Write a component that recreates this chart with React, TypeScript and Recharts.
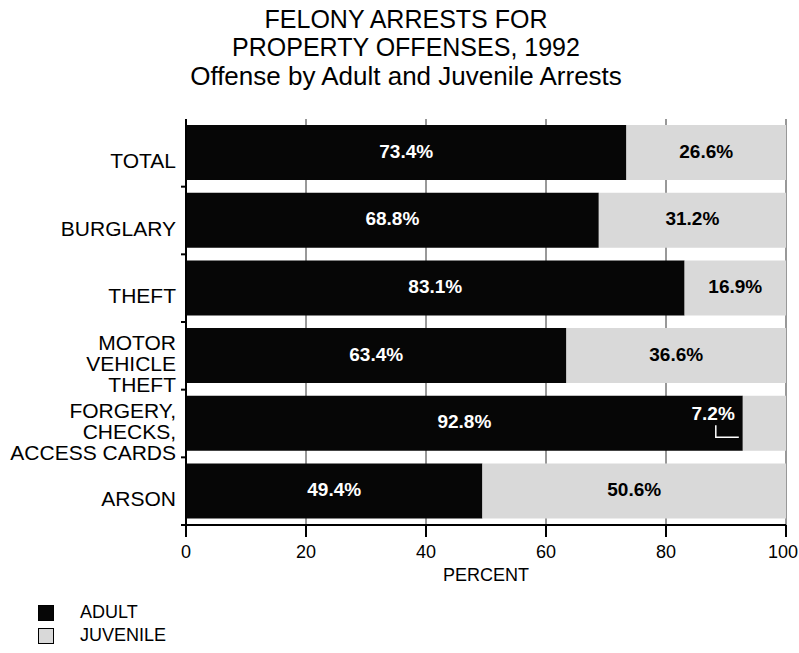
import React from 'react';
import { BarChart, Bar, XAxis, YAxis, CartesianGrid, Legend, LabelList } from 'recharts';

const categories = ['TOTAL', 'BURGLARY', 'THEFT', 'MOTOR\nVEHICLE\nTHEFT', 'FORGERY,\nCHECKS,\nACCESS CARDS', 'ARSON'];
const adultPct = [73.4, 68.8, 83.1, 63.4, 92.8, 49.4];
const juvenilePct = [26.6, 31.2, 16.9, 36.6, 7.2, 50.6];
const percentTicks = [0, 20, 40, 60, 80, 100];
const titleLines = ['FELONY ARRESTS FOR', 'PROPERTY OFFENSES, 1992'];
const subtitle = 'Offense by Adult and Juvenile Arrests';

const data = categories.map((name, i) => ({ name, adult: adultPct[i], juvenile: juvenilePct[i] }));

const FONT = '"Liberation Sans", Arial, Helvetica, sans-serif';
const ADULT_FILL = '#060606';
const JUV_FILL = '#d9d9d9';

const W = 799;
const H = 653;
const PLOT_TOP = 119;
const PLOT_BOTTOM = 525;
const X_AXIS_H = 58;
const HALF_BAND = (PLOT_BOTTOM - PLOT_TOP) / categories.length / 2;

// category name on the left, plus the little tick at the bottom edge of each band
const CategoryTick = ({ x, y, payload }: any) => {
  const lines = String(payload.value).split('\n');
  const lh = 21;
  const y0 = y - ((lines.length - 1) * lh) / 2 + 9;
  return (
    <g>
      <text x={x - 2} y={y0} textAnchor="end" fontSize={21} fontFamily={FONT} fill="#000" dominantBaseline="middle">
        {lines.map((l, i) => (
          <tspan key={i} x={x - 2} dy={i === 0 ? 0 : lh}>{l}</tspan>
        ))}
      </text>
      <line x1={x + 3} x2={x + 8} y1={y + HALF_BAND} y2={y + HALF_BAND} stroke="#000" strokeWidth={2} />
    </g>
  );
};

// last label ("100") sits flush with the right edge of the page
const PercentTick = ({ x, y, payload }: any) => {
  const last = payload.value === percentTicks[percentTicks.length - 1];
  return (
    <text x={last ? x + 12 : x} y={y} dy="0.71em" textAnchor={last ? 'end' : 'middle'}
      fontSize={18} fontFamily={FONT} fill="#000">{payload.value}</text>
  );
};

const AdultLabel = ({ x, y, width, height, value }: any) => (
  <text x={x + width / 2} y={y + height / 2} textAnchor="middle" dominantBaseline="middle"
    fontSize={19} fontWeight="bold" fontFamily={FONT} fill="#fff">
    {`${Number(value).toFixed(1)}%`}
  </text>
);

const JuvenileLabel = ({ x, y, width, height, value }: any) => {
  const txt = `${Number(value).toFixed(1)}%`;
  const cy = y + height / 2;
  if (value < 10) {
    // segment too narrow, label sits in the black bar with a small leader
    const tx = x - 8;
    return (
      <g>
        <text x={tx} y={cy - 8} textAnchor="end" dominantBaseline="middle"
          fontSize={19} fontWeight="bold" fontFamily={FONT} fill="#fff">{txt}</text>
        <polyline points={`${tx - 19},${cy + 2} ${tx - 19},${cy + 14} ${x - 4},${cy + 14}`}
          fill="none" stroke="#fff" strokeWidth={1.5} />
      </g>
    );
  }
  return (
    <text x={x + width / 2} y={cy} textAnchor="middle" dominantBaseline="middle"
      fontSize={19} fontWeight="bold" fontFamily={FONT} fill="#000">{txt}</text>
  );
};

const LegendBox = () => (
  <div style={{ fontFamily: FONT, fontSize: 18, color: '#000' }}>
    {[{ label: 'ADULT', fill: ADULT_FILL }, { label: 'JUVENILE', fill: JUV_FILL }].map((it) => (
      <div key={it.label} style={{ display: 'flex', alignItems: 'center', height: 23 }}>
        <span style={{ display: 'inline-block', width: 14, height: 14, background: it.fill, border: '1px solid #000', marginRight: 26 }} />
        <span>{it.label}</span>
      </div>
    ))}
  </div>
);

export default function App() {
  return (
    <div style={{ position: 'absolute', left: 0, top: 0, width: W, height: H, background: '#fff', overflow: 'hidden' }}>
      <div style={{ position: 'absolute', left: 0, top: 5, width: 812, textAlign: 'center', fontFamily: FONT, color: '#000' }}>
        {titleLines.map((t) => <div key={t} style={{ fontSize: 25, lineHeight: '28px' }}>{t}</div>)}
        <div style={{ fontSize: 26, lineHeight: '30px' }}>{subtitle}</div>
      </div>
      <BarChart width={W} height={H} data={data} layout="vertical"
        margin={{ top: PLOT_TOP, right: 13, bottom: H - PLOT_BOTTOM - X_AXIS_H, left: 6 }}
        barCategoryGap="9%">
        <CartesianGrid horizontal={false} stroke="#333" strokeWidth={1} />
        <XAxis type="number" domain={[0, 100]} ticks={percentTicks} height={X_AXIS_H}
          axisLine={{ stroke: '#000', strokeWidth: 2 }} tickLine={{ stroke: '#000', strokeWidth: 2 }} tickSize={12} tickMargin={8}
          tick={<PercentTick />}
          label={{ value: 'PERCENT', position: 'insideBottom', offset: 2, fontSize: 18, fontFamily: FONT, fill: '#000' }} />
        <XAxis xAxisId="top" orientation="top" type="number" domain={[0, 100]} height={0}
          tick={false} tickLine={false} axisLine={{ stroke: '#000', strokeWidth: 2 }} />
        <YAxis type="category" dataKey="name" width={180} tick={<CategoryTick />} tickLine={false}
          axisLine={{ stroke: '#000', strokeWidth: 2 }} interval={0} />
        <YAxis yAxisId="right" orientation="right" type="category" dataKey="name" width={0}
          tick={false} tickLine={false} axisLine={{ stroke: '#000', strokeWidth: 2 }} />
        <Legend layout="vertical" align="center" verticalAlign="middle" content={<LegendBox />}
          wrapperStyle={{ left: 38, top: 601, width: 200 }} />
        <Bar dataKey="adult" name="ADULT" stackId="a" fill={ADULT_FILL} isAnimationActive={false}>
          <LabelList dataKey="adult" content={<AdultLabel />} />
        </Bar>
        <Bar dataKey="juvenile" name="JUVENILE" stackId="a" fill={JUV_FILL} isAnimationActive={false}>
          <LabelList dataKey="juvenile" content={<JuvenileLabel />} />
        </Bar>
      </BarChart>
    </div>
  );
}
